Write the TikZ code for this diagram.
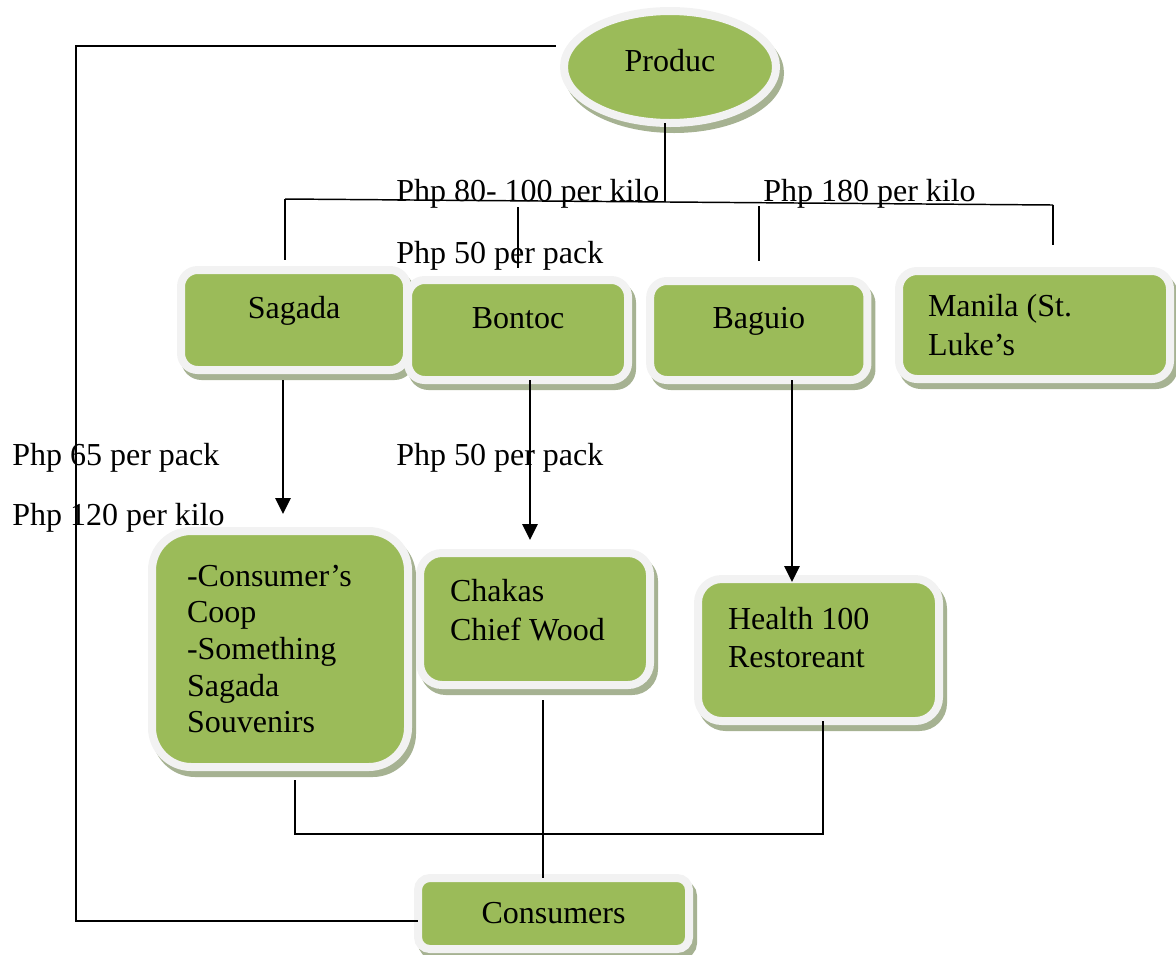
\documentclass[tikz,border=0pt]{standalone}
\usepackage{fontspec}
\setmainfont{Liberation Serif}
\usetikzlibrary{shapes.geometric,shadows,arrows.meta}
\definecolor{leafgreen}{RGB}{155,187,89}
\definecolor{rimgray}{RGB}{242,242,242}
\definecolor{shadowgreen}{RGB}{166,178,146}
\begin{document}
\begin{tikzpicture}[x=0.75pt,y=-0.75pt,font=\fontsize{24}{28.7}\selectfont,
    box/.style={draw=rimgray,line width=6pt,fill=leafgreen,outer sep=0pt,rounded corners=12.5pt,
      drop shadow={shadow xshift=3pt,shadow yshift=-4.5pt,fill=shadowgreen,draw=shadowgreen,opacity=1}},
    link/.style={line width=1.1pt},
    arr/.style={line width=1.5pt,-{Triangle[length=12pt,width=11.5pt]}},
    price/.style={anchor=base west,inner sep=0pt}]
        \useasboundingbox (0,0) rectangle (1176,954);
        \coordinate(bl)at(285,199);\coordinate(br)at(1053,205);
        \coordinate(hub)at(665,202);\coordinate(fb)at(76,921);\coordinate(jn)at(0,834);
        \node[box,ellipse,minimum width=159pt,minimum height=84pt,text depth=9.4pt] (prd) at (670,67) {Produc};
        \node[box,minimum width=169.5pt,minimum height=75pt,text depth=18.2pt] (sag) at (294,320) {Sagada};
        \node[box,minimum width=165pt,minimum height=75pt,text depth=18.2pt] (bon) at (518,330) {Bontoc};
        \node[box,minimum width=163pt,minimum height=74.25pt,text depth=18.2pt] (bag) at (758.8,330.5) {Baguio};
        \node[box,rounded corners=13.5pt,minimum width=203.25pt,minimum height=81pt,text width=159.75pt,align=flush left] (man) at (1034.5,325) {Manila (St.\\Luke’s};
        \node[box,rounded corners=29.5pt,minimum width=192pt,minimum height=177pt,text width=139.5pt,align=flush left,font=\fontsize{24}{27.5}\selectfont] (coop) at (280,649) {-Consumer’s\\Coop\\-Something\\Sagada\\Souvenirs};
        \node[box,rounded corners=16.5pt,minimum width=172.5pt,minimum height=99pt,text width=127.5pt,align=flush left,text depth=42.4pt] (chk) at (535,619) {Chakas\\Chief Wood};
        \node[box,rounded corners=17.75pt,minimum width=180.75pt,minimum height=106.5pt,text width=135.75pt,align=flush left,text depth=47.9pt] (hlt) at (818.5,650) {Health 100\\Restoreant};
        \node[box,rounded corners=8.9pt,minimum width=203.25pt,minimum height=53.25pt] (cns) at (553.5,913.5) {Consumers};
        \node[price] (p1) at (396,201) {Php 80- 100 per kilo};
        \node[price] (p2) at (763,201) {Php 180 per kilo};
        \node[price] (p3) at (396,263) {Php 50 per pack};
        \node[price] (p4) at (12,465) {Php 65 per pack};
        \node[price] (p5) at (12,525) {Php 120 per kilo};
        \node[price] (p6) at (396,465) {Php 50 per pack};
        \draw[link,shorten <=12pt] (prd.168) -| (fb) -- (fb -| cns.west);
        \draw[link] (hub |- prd.south) -- (hub);
        \draw[link] (bl) -- (br);
        \draw[link,shorten >=7.5pt] (bl) -- (bl |- sag.north);
        \draw[link,shorten <=3.75pt,shorten >=9pt] (bon.north |- hub) -- (bon.north);
        \draw[link,shorten <=1pt,shorten >=15pt] (bag.north |- br) -- (bag.north);
        \draw[link,shorten >=19.5pt] (br) -- (br |- man.north);
        \coordinate(a1)at([xshift=2.25pt]coop.north);
        \coordinate(a2)at([xshift=-3.75pt]chk.north);
        \coordinate(a3)at([xshift=-19.9pt]hlt.north);
        \draw[arr,shorten <=7.5pt,shorten >=12.75pt] (a1 |- sag.south) -- (a1);
        \draw[arr,shorten >=9.75pt] (a2 |- bon.south) -- (a2);
        \draw[arr,shorten >=-2.25pt] (a3 |- bag.south) -- (a3);
        \coordinate(c1)at([xshift=11.25pt]coop.south);
        \coordinate(c2)at([xshift=3.4pt]hlt.south);
        \coordinate(c3)at([xshift=6pt]chk.south);
        \draw[link,shorten <=9.75pt] (c1) |- (jn -| c2) -- (c2);
        \draw[link,shorten <=11.25pt] (c3) -- (c3 |- cns.north);
      \end{tikzpicture}
\end{document}
